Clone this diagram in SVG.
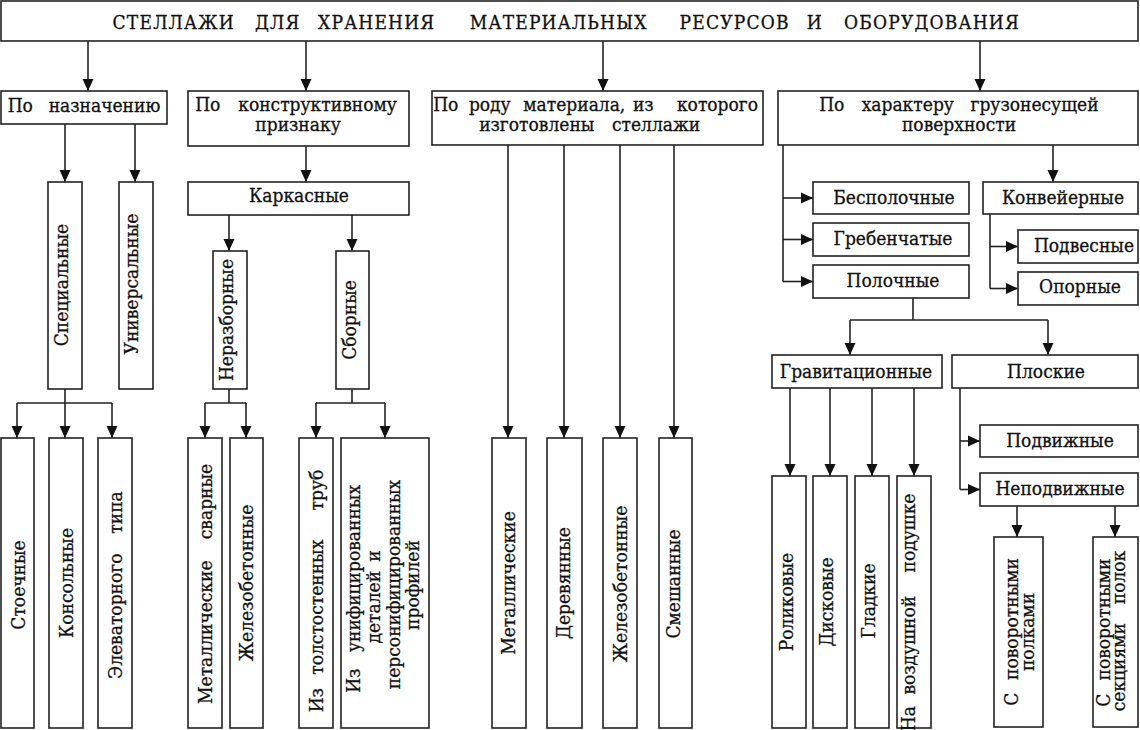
<svg xmlns="http://www.w3.org/2000/svg" width="1140" height="730" viewBox="0 0 1140 730">
<style>
.b{fill:#fff;stroke:#222;stroke-width:1.6}
.t{font-family:"DejaVu Serif Condensed","DejaVu Serif","Liberation Serif",serif;font-stretch:condensed;font-size:19px;fill:#111;stroke:#111;stroke-width:0.3px}
.ti{font-stretch:normal;letter-spacing:1.2px}
.m{text-anchor:middle}
.c path{fill:none;stroke:#222;stroke-width:1.6}
.c path.a{marker-end:url(#ah)}
</style>
<defs>
<marker id="ah" markerUnits="userSpaceOnUse" markerWidth="12" markerHeight="12" refX="12" refY="6" orient="auto">
<path d="M0,0.5 L12,6 L0,11.5 z" fill="#111"/>
</marker>
</defs>
<rect width="1140" height="730" fill="#fff"/>

<g class="c" id="connectors">
<path class="a" d="M88,41 V91"/>
<path class="a" d="M306,41 V91"/>
<path class="a" d="M603,41 V91"/>
<path class="a" d="M980,41 V91"/>
<path class="a" d="M65,124 V182"/>
<path class="a" d="M135,124 V182"/>
<path class="a" d="M306,146 V182"/>
<path class="a" d="M229,215 V251"/>
<path class="a" d="M352,215 V251"/>
<path d="M65,389 V403 M17,403 H112"/>
<path class="a" d="M17,403 V438"/>
<path class="a" d="M65,403 V438"/>
<path class="a" d="M112,403 V438"/>
<path d="M229,389 V403 M205,403 H246"/>
<path class="a" d="M205,403 V438"/>
<path class="a" d="M246,403 V438"/>
<path d="M352,389 V403 M316,403 H385"/>
<path class="a" d="M316,403 V438"/>
<path class="a" d="M385,403 V438"/>
<path class="a" d="M508,145 V438"/>
<path class="a" d="M564,145 V438"/>
<path class="a" d="M620,145 V438"/>
<path class="a" d="M674,145 V438"/>
<path d="M783,145 V281.5"/>
<path class="a" d="M783,198 H813"/>
<path class="a" d="M783,239.5 H813"/>
<path class="a" d="M783,281.5 H813"/>
<path class="a" d="M1053,145 V182"/>
<path d="M990,214 V288.5"/>
<path class="a" d="M990,246.5 H1018"/>
<path class="a" d="M990,288.5 H1018"/>
<path d="M913,298 V320 M850,320 H1048"/>
<path class="a" d="M850,320 V355"/>
<path class="a" d="M1048,320 V355"/>
<path class="a" d="M790,388 V476"/>
<path class="a" d="M830,388 V476"/>
<path class="a" d="M872,388 V476"/>
<path class="a" d="M914,388 V476"/>
<path d="M960,388 V489.5"/>
<path class="a" d="M960,441 H980"/>
<path class="a" d="M960,489.5 H980"/>
<path class="a" d="M1017,506 V537"/>
<path class="a" d="M1115,506 V537"/>
</g>

<g id="n-title"><rect class="b" x="1" y="1" width="1137" height="40"/>
<text class="t ti m" y="29"><tspan x="177">СТЕЛЛАЖИ</tspan> <tspan x="281">ДЛЯ</tspan> <tspan x="380">ХРАНЕНИЯ</tspan> <tspan x="562">МАТЕРИАЛЬНЫХ</tspan> <tspan x="738">РЕСУРСОВ</tspan> <tspan x="818">И</tspan> <tspan x="932">ОБОРУДОВАНИЯ</tspan></text></g>

<g id="n-naznach"><rect class="b" x="1" y="91" width="166" height="33"/>
<text class="t m" y="112"><tspan x="23">По</tspan> <tspan x="104.5">назначению</tspan></text></g>

<g id="n-konstr"><rect class="b" x="188" y="91" width="221" height="55"/>
<text class="t m" y="111"><tspan x="210.5">По</tspan> <tspan x="317.5">конструктивному</tspan></text>
<text class="t m" x="298" y="131">признаку</text></g>

<g id="n-material"><rect class="b" x="432" y="91" width="331" height="54"/>
<text class="t m" y="111"><tspan x="448.5">По</tspan> <tspan x="492.5">роду</tspan> <tspan x="577">материала,</tspan> <tspan x="646">из</tspan> <tspan x="717.5">которого</tspan></text>
<text class="t m" y="131"><tspan x="539.5">изготовлены</tspan> <tspan x="656">стеллажи</tspan></text></g>

<g id="n-harakter"><rect class="b" x="778" y="91" width="360" height="54"/>
<text class="t m" y="111"><tspan x="834.5">По</tspan> <tspan x="910.5">характеру</tspan> <tspan x="1034.5">грузонесущей</tspan></text>
<text class="t m" x="959" y="131">поверхности</text></g>

<g id="n-spec"><rect class="b" x="48" y="182" width="34" height="207"/>
<text class="t m" transform="translate(68,285) rotate(-90)">Специальные</text></g>
<g id="n-univ"><rect class="b" x="119" y="182" width="34" height="207"/>
<text class="t m" transform="translate(138,284) rotate(-90)">Универсальные</text></g>

<g id="n-karkas"><rect class="b" x="188" y="182" width="221" height="33"/>
<text class="t m" x="299" y="202">Каркасные</text></g>
<g id="n-nerazb"><rect class="b" x="213" y="251" width="34" height="138"/>
<text class="t m" transform="translate(233,320) rotate(-90)">Неразборные</text></g>
<g id="n-sborn"><rect class="b" x="336" y="251" width="33" height="138"/>
<text class="t m" transform="translate(356,320) rotate(-90)">Сборные</text></g>

<g id="n-stoech"><rect class="b" x="1" y="438" width="33" height="290"/>
<text class="t m" transform="translate(25,585) rotate(-90)">Стоечные</text></g>
<g id="n-konsol"><rect class="b" x="49" y="438" width="34" height="290"/>
<text class="t m" transform="translate(73,583) rotate(-90)">Консольные</text></g>
<g id="n-elev"><rect class="b" x="98" y="438" width="34" height="290"/>
<text class="t m" transform="translate(122,583) rotate(-90)"><tspan x="-30.5">Элеваторного</tspan> <tspan x="70.5">типа</tspan></text></g>
<g id="n-metsvar"><rect class="b" x="188" y="438" width="34" height="290"/>
<text class="t m" transform="translate(212,583) rotate(-90)"><tspan x="-46.5">Металлические</tspan> <tspan x="81.5">сварные</tspan></text></g>
<g id="n-zhb1"><rect class="b" x="230" y="438" width="33" height="290"/>
<text class="t m" transform="translate(253,583) rotate(-90)">Железобетонные</text></g>
<g id="n-trub"><rect class="b" x="299" y="438" width="34" height="290"/>
<text class="t m" transform="translate(323,583) rotate(-90)"><tspan x="-114.5">Из</tspan> <tspan x="-21.5">толстостенных</tspan> <tspan x="93">труб</tspan></text></g>
<g id="n-unif"><rect class="b" x="341" y="438" width="88" height="290"/>
<text class="t m" transform="translate(360,583) rotate(-90)"><tspan x="-95">Из</tspan> <tspan x="14.5">унифицированных</tspan></text>
<text class="t m" transform="translate(380,583) rotate(-90)"><tspan x="-21.5">деталей</tspan> <tspan x="27">и</tspan></text>
<text class="t m" transform="translate(400,583) rotate(-90)" x="-1.5">персонифицированных</text>
<text class="t m" transform="translate(419,583) rotate(-90)" x="-2">профилей</text></g>

<g id="n-met"><rect class="b" x="492" y="438" width="34" height="290"/>
<text class="t m" transform="translate(515,583) rotate(-90)">Металлические</text></g>
<g id="n-derev"><rect class="b" x="547" y="438" width="35" height="290"/>
<text class="t m" transform="translate(570,583) rotate(-90)">Деревянные</text></g>
<g id="n-zhb2"><rect class="b" x="603" y="438" width="34" height="290"/>
<text class="t m" transform="translate(627,584) rotate(-90)">Железобетонные</text></g>
<g id="n-smesh"><rect class="b" x="659" y="438" width="33" height="290"/>
<text class="t m" transform="translate(680,584) rotate(-90)">Смешанные</text></g>

<g id="n-bespol"><rect class="b" x="813" y="182" width="156" height="32"/>
<text class="t m" x="894" y="204">Бесполочные</text></g>
<g id="n-greb"><rect class="b" x="813" y="223" width="156" height="33"/>
<text class="t m" x="893" y="245">Гребенчатые</text></g>
<g id="n-poloch"><rect class="b" x="813" y="265" width="156" height="33"/>
<text class="t m" x="893" y="287">Полочные</text></g>
<g id="n-konv"><rect class="b" x="983" y="182" width="155" height="32"/>
<text class="t m" x="1063" y="204">Конвейерные</text></g>
<g id="n-podves"><rect class="b" x="1018" y="230" width="120" height="33"/>
<text class="t m" x="1084" y="252">Подвесные</text></g>
<g id="n-opor"><rect class="b" x="1018" y="272" width="120" height="33"/>
<text class="t m" x="1080" y="293">Опорные</text></g>

<g id="n-grav"><rect class="b" x="772" y="355" width="170" height="33"/>
<text class="t m" x="856" y="378">Гравитационные</text></g>
<g id="n-plosk"><rect class="b" x="952" y="355" width="186" height="33"/>
<text class="t m" x="1046" y="378">Плоские</text></g>
<g id="n-podv"><rect class="b" x="980" y="425" width="158" height="32"/>
<text class="t m" x="1060" y="447">Подвижные</text></g>
<g id="n-nepodv"><rect class="b" x="980" y="473" width="158" height="33"/>
<text class="t m" x="1060" y="495">Неподвижные</text></g>

<g id="n-rolik"><rect class="b" x="772" y="476" width="34" height="252"/>
<text class="t m" transform="translate(793,602) rotate(-90)">Роликовые</text></g>
<g id="n-disk"><rect class="b" x="813" y="476" width="34" height="252"/>
<text class="t m" transform="translate(833,602) rotate(-90)">Дисковые</text></g>
<g id="n-glad"><rect class="b" x="855" y="476" width="34" height="252"/>
<text class="t m" transform="translate(875,601) rotate(-90)">Гладкие</text></g>
<g id="n-vozd"><rect class="b" x="897" y="476" width="34" height="252"/>
<text class="t m" transform="translate(915,602) rotate(-90)"><tspan x="-114">На</tspan> <tspan x="-40.5">воздушной</tspan> <tspan x="69">подушке</tspan></text></g>

<g id="n-povpol"><rect class="b" x="994" y="537" width="49" height="190"/>
<text class="t m" transform="translate(1018,632) rotate(-90)"><tspan x="-64.5">С</tspan> <tspan x="13">поворотными</tspan></text>
<text class="t m" transform="translate(1034,632) rotate(-90)" x="0">полками</text></g>
<g id="n-povsek"><rect class="b" x="1093" y="537" width="45" height="190"/>
<text class="t m" transform="translate(1110,632) rotate(-90)"><tspan x="-65.5">С</tspan> <tspan x="12.5">поворотными</tspan></text>
<text class="t m" transform="translate(1125,632) rotate(-90)"><tspan x="-32.5">секциями</tspan> <tspan x="54.5">полок</tspan></text></g>
</svg>
